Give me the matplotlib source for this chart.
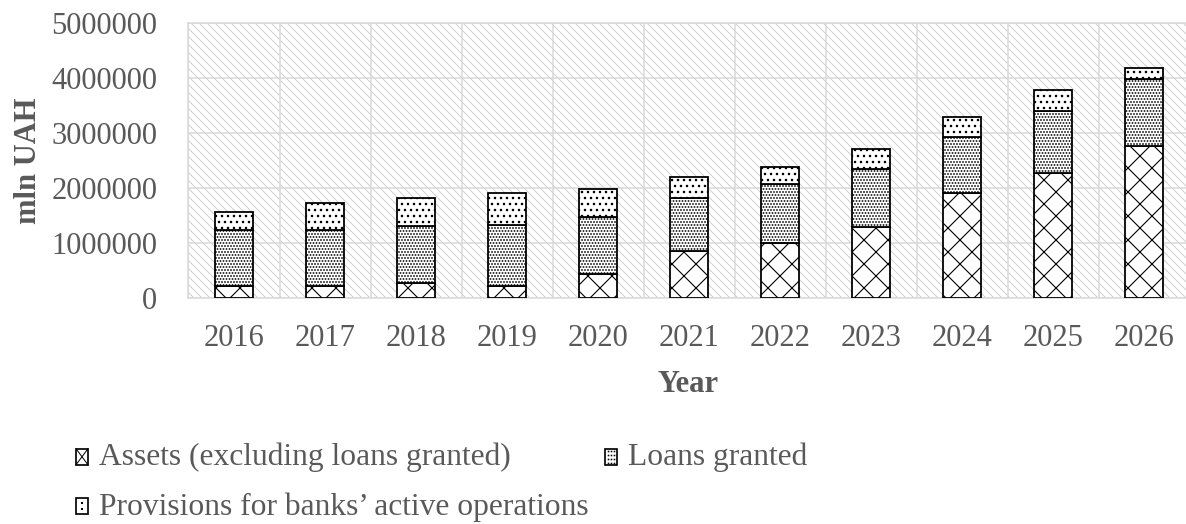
import matplotlib
matplotlib.use("Agg")
import matplotlib.pyplot as plt
from matplotlib.patches import Rectangle
from matplotlib.lines import Line2D
from matplotlib.legend_handler import HandlerBase

# ---- data ----
years = ['2016', '2017', '2018', '2019', '2020', '2021', '2022', '2023', '2024', '2025', '2026']
assets = [220000, 230000, 270000, 220000, 440000, 860000, 1000000, 1300000, 1910000, 2270000, 2770000]
loans = [1020000, 1010000, 1040000, 1120000, 1040000, 970000, 1080000, 1050000, 1020000, 1140000, 1220000]
provisions = [330000, 500000, 520000, 570000, 500000, 380000, 310000, 370000, 370000, 370000, 190000]
yticks = [0, 1000000, 2000000, 3000000, 4000000, 5000000]
ytick_labels = ['0', '1000000', '2000000', '3000000', '4000000', '5000000']
series_labels = ['Assets (excluding loans granted)', 'Loans granted',
                 "Provisions for banks\u2019 active operations"]

# ---- figure (72 dpi so that 1 pt == 1 px) ----
W, H = 1186, 524
DPI = 72
plt.rcParams['font.family'] = ['Liberation Serif', 'DejaVu Serif']
TXT = '#595959'
GRID = '#d9d9d9'

fig = plt.figure(figsize=(W / DPI, H / DPI), dpi=DPI)
ax = fig.add_axes([188.5 / W, 1 - 298.3 / H, 1001 / W, 275 / H])

# hatched background
with plt.rc_context({'hatch.linewidth': 0.9}):
    bg = Rectangle((0, 0), 1, 1, transform=ax.transAxes, facecolor='white',
                   edgecolor='#cccccc', linewidth=0, hatch='\\\\\\', zorder=0.1)
    ax.add_patch(bg)

x = list(range(len(years)))
bw = 0.41
bottom2 = [a + l for a, l in zip(assets, loans)]
with plt.rc_context({'hatch.linewidth': 1.1}):
    b1 = ax.bar(x, assets, width=bw, color='white', edgecolor='black', linewidth=1.8,
                hatch='x', zorder=3, label=series_labels[0])
with plt.rc_context({'hatch.linewidth': 1.2}):
    b2 = ax.bar(x, loans, width=bw, bottom=assets, color='white', edgecolor='black',
                linewidth=1.8, hatch='....', zorder=3, label=series_labels[1])
with plt.rc_context({'hatch.linewidth': 1.3}):
    b3 = ax.bar(x, provisions, width=bw, bottom=bottom2, color='white', edgecolor='black',
                linewidth=1.8, hatch='..', zorder=3, label=series_labels[2])

ax.set_xlim(-0.5, len(years) - 0.5)
ax.set_ylim(0, 5000000)
ax.set_yticks(yticks)
ax.set_yticklabels(ytick_labels)
ax.set_xticks(x)
ax.set_xticklabels(years)

for yv in yticks:
    ax.axhline(yv, color=GRID, linewidth=1.5, zorder=0.5)
for xv in [i - 0.5 for i in range(len(years) + 1)]:
    ax.axvline(xv, color=GRID, linewidth=1.5, zorder=0.5)

for s in ax.spines.values():
    s.set_color(GRID)
    s.set_linewidth(1.5)
    s.set_zorder(0.6)

ax.tick_params(axis='y', length=0, pad=31, labelsize=30.5, labelcolor=TXT)
ax.tick_params(axis='x', length=0, pad=26, labelsize=30.5, labelcolor=TXT)

fig.text(28 / W, 1 - 160.5 / H, 'mln UAH', rotation=90, ha='center', va='center',
         fontsize=30.5, fontweight='bold', color=TXT)
fig.text(688 / W, 1 - 385 / H, 'Year', ha='center', va='center',
         fontsize=30.5, fontweight='bold', color=TXT)


# ---- legend icons: small boxes with a miniature of each hatch ----
class BoxHandler(HandlerBase):
    def __init__(self, kind):
        super().__init__()
        self.kind = kind

    def create_artists(self, legend, orig_handle, xdescent, ydescent, width, height,
                       fontsize, trans):
        x0, y0 = -xdescent, -ydescent - 2.5
        arts = [Rectangle((x0, y0), width, height, facecolor='white', edgecolor='black',
                          linewidth=1.7, transform=trans)]
        if self.kind == 'x':
            arts.append(Line2D([x0, x0 + width], [y0, y0 + height], color='black',
                               linewidth=1.0, transform=trans))
            arts.append(Line2D([x0, x0 + width], [y0 + height, y0], color='black',
                               linewidth=1.0, transform=trans))
        elif self.kind == 'dense':
            xs, ys = [], []
            for i in range(3):
                for j in range(4):
                    xs.append(x0 + width * (i + 1) / 4)
                    ys.append(y0 + height * (j + 0.5) / 4)
            arts.append(Line2D(xs, ys, linestyle='none', marker='s', markersize=1.6,
                               markerfacecolor='black', markeredgewidth=0, transform=trans))
        else:
            arts.append(Line2D([x0 + width / 2] * 2, [y0 + height * 0.32, y0 + height * 0.68],
                               linestyle='none', marker='s', markersize=2.0,
                               markerfacecolor='black', markeredgewidth=0, transform=trans))
        return arts


leg = fig.legend([b1, b3, b2], [series_labels[0], series_labels[2], series_labels[1]],
                 handler_map={b1: BoxHandler('x'), b2: BoxHandler('dense'), b3: BoxHandler('sparse')},
                 ncol=2, loc='upper left', bbox_to_anchor=(76 / W, 1 - 443 / H),
                 bbox_transform=fig.transFigure, frameon=False, fontsize=31.5,
                 handlelength=0.38, handleheight=0.41, handletextpad=0.36,
                 columnspacing=0.5, labelspacing=0.62, borderpad=0, borderaxespad=0)
for t in leg.get_texts():
    t.set_color(TXT)

fig.savefig('out.png', dpi=DPI)
